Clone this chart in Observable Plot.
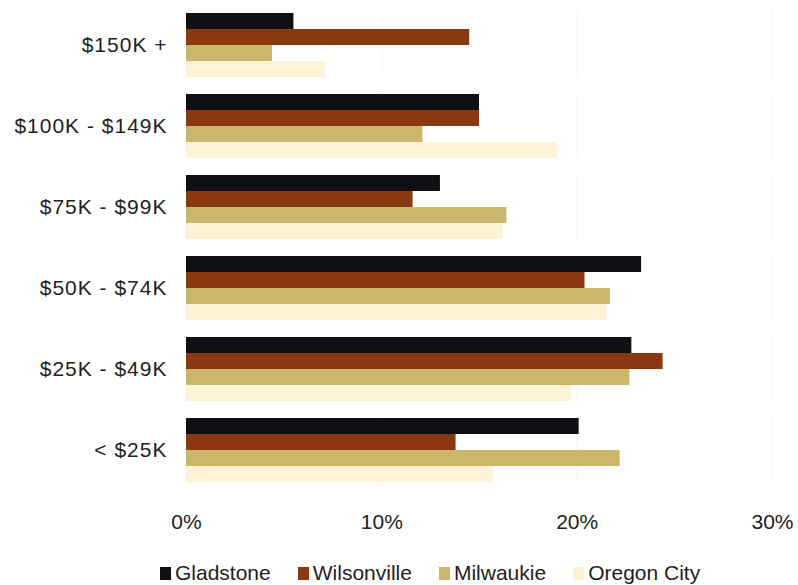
<!DOCTYPE html>
<html>
<head>
<meta charset="utf-8">
<script src="https://cdn.jsdelivr.net/npm/d3@7"></script>
<script src="https://cdn.jsdelivr.net/npm/@observablehq/plot@0.6"></script>
<style>
  html, body { margin: 0; padding: 0; background: #fff; overflow: hidden; }
  #chart svg { display: block; }
  [aria-label="fy-axis tick label"] text { letter-spacing: 1px; }
  #legend { display: flex; align-items: center; padding-left: 160px; margin-top: 8px;
    font-family: "Liberation Sans", Arial, sans-serif; font-size: 21px; color: #222; line-height: 30px; }
  #legend .item { display: flex; align-items: center; margin-right: 27px; }
  #legend .sw { width: 11px; height: 13px; margin-right: 4px; }
</style>
</head>
<body>
<div id="chart"></div>
<div id="legend"></div>
<script>
const incomes = ["$150K +", "$100K - $149K", "$75K - $99K", "$50K - $74K", "$25K - $49K", "< $25K"];
const cities = ["Gladstone", "Wilsonville", "Milwaukie", "Oregon City"];
const gladstone   = [5.5, 15.0, 13.0, 23.3, 22.8, 20.1];
const wilsonville = [14.5, 15.0, 11.6, 20.4, 24.4, 13.8];
const milwaukie   = [4.4, 12.1, 16.4, 21.7, 22.7, 22.2];
const oregonCity  = [7.1, 19.0, 16.2, 21.5, 19.7, 15.7];
const colors = ["#101014", "#8a3812", "#cbb76b", "#fdf3d4"];
const xTicks = [0, 10, 20, 30];

const series = [gladstone, wilsonville, milwaukie, oregonCity];
const data = [];
incomes.forEach((inc, i) => cities.forEach((c, j) => data.push({income: inc, city: c, value: series[j][i]})));

const chart = Plot.plot({
  width: 798,
  height: 550,
  marginLeft: 186,
  marginRight: 26,
  marginTop: 10,
  marginBottom: 66,
  style: {fontSize: "21px", fontFamily: "Liberation Sans, Arial, sans-serif", color: "#222", background: "#fff"},
  x: {domain: [0, 30], ticks: xTicks, tickFormat: d => d + "%", tickSize: 0, tickPadding: 31, label: null},
  y: {domain: cities, padding: 0, axis: null},
  fy: {domain: incomes, paddingInner: 0.17, paddingOuter: 0, label: null, tickSize: 0, tickPadding: 19},
  color: {domain: cities, range: colors},
  marks: [
    Plot.ruleX(xTicks.slice(1), {stroke: "#f6f6f6"}),
    Plot.barX(data, {x: "value", y: "city", fy: "income", fill: "city", inset: 0})
  ]
});
document.getElementById("chart").appendChild(chart);

const legend = document.getElementById("legend");
cities.forEach((c, j) => {
  const item = document.createElement("div");
  item.className = "item";
  const sw = document.createElement("div");
  sw.className = "sw";
  sw.style.background = colors[j];
  const t = document.createElement("span");
  t.textContent = c;
  item.appendChild(sw);
  item.appendChild(t);
  legend.appendChild(item);
});
</script>
</body>
</html>
